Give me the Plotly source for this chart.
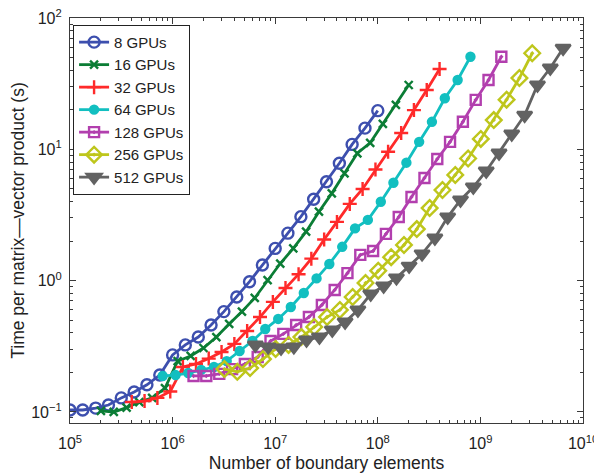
import plotly.graph_objects as go

# ---------------- data ----------------
labels = ["8 GPUs", "16 GPUs", "32 GPUs", "64 GPUs", "128 GPUs", "256 GPUs", "512 GPUs"]

n_8 = [1.00e5, 1.33e5, 1.78e5, 2.37e5, 3.16e5, 4.22e5, 5.62e5, 7.50e5, 1.00e6, 1.33e6,
       1.78e6, 2.37e6, 3.16e6, 4.22e6, 5.62e6, 7.50e6, 1.00e7, 1.33e7, 1.78e7, 2.37e7,
       3.16e7, 4.22e7, 5.62e7, 7.50e7, 1.00e8]
t_8 = [0.1035, 0.1035, 0.107, 0.113, 0.128, 0.142, 0.161, 0.191, 0.272, 0.324,
       0.372, 0.459, 0.581, 0.751, 0.982, 1.315, 1.76, 2.30, 3.07, 4.17,
       5.67, 7.83, 10.9, 14.5, 19.7]

n_16 = [2.00e5, 2.67e5, 3.56e5, 4.74e5, 6.32e5, 8.43e5, 1.12e6, 1.50e6, 2.00e6, 2.67e6,
        3.56e6, 4.74e6, 6.32e6, 8.43e6, 1.12e7, 1.50e7, 2.00e7, 2.67e7, 3.56e7, 4.74e7,
        6.32e7, 8.43e7, 1.12e8, 1.50e8, 2.00e8]
t_16 = [0.102, 0.100, 0.108, 0.119, 0.128, 0.152, 0.244, 0.267, 0.307, 0.372,
        0.468, 0.581, 0.738, 1.01, 1.35, 1.76, 2.36, 3.35, 4.62, 6.57,
        9.33, 11.2, 15.6, 21.8, 30.9]

n_32 = [4.00e5, 5.33e5, 7.11e5, 9.49e5, 1.26e6, 1.69e6, 2.25e6, 3.00e6, 4.00e6, 5.33e6,
        7.11e6, 9.49e6, 1.26e7, 1.69e7, 2.25e7, 3.00e7, 4.00e7, 5.33e7, 7.11e7, 9.49e7,
        1.26e8, 1.69e8, 2.25e8, 3.00e8, 4.00e8]
t_32 = [0.119, 0.121, 0.128, 0.143, 0.220, 0.232, 0.255, 0.286, 0.330, 0.414,
        0.528, 0.689, 0.879, 1.12, 1.47, 2.06, 2.80, 3.84, 4.99, 7.02,
        9.59, 13.3, 19.9, 28.3, 40.9]

n_64 = [8.00e5, 1.07e6, 1.42e6, 1.90e6, 2.53e6, 3.37e6, 4.50e6, 6.00e6, 8.00e6, 1.07e7,
        1.42e7, 1.90e7, 2.53e7, 3.37e7, 4.50e7, 6.00e7, 8.00e7, 1.07e8, 1.42e8, 1.90e8,
        2.53e8, 3.37e8, 4.50e8, 6.00e8, 8.00e8]
t_64 = [0.188, 0.191, 0.198, 0.209, 0.220, 0.244, 0.291, 0.347, 0.428, 0.511,
        0.630, 0.805, 1.04, 1.34, 1.81, 2.50, 2.90, 3.99, 5.57, 7.91,
        11.4, 16.2, 24.5, 33.7, 50.7]

n_128 = [1.60e6, 2.13e6, 2.85e6, 3.80e6, 5.06e6, 6.75e6, 9.00e6, 1.20e7, 1.60e7, 2.13e7,
         2.85e7, 3.80e7, 5.06e7, 6.75e7, 9.00e7, 1.20e8, 1.60e8, 2.13e8, 2.85e8, 3.80e8,
         5.06e8, 6.75e8, 9.00e8, 1.20e9, 1.60e9]
t_128 = [0.188, 0.188, 0.195, 0.212, 0.232, 0.262, 0.347, 0.393, 0.459, 0.528,
         0.653, 0.849, 1.14, 1.57, 1.68, 2.27, 3.05, 4.34, 6.05, 8.44,
         11.4, 16.2, 23.8, 33.7, 50.7]

n_256 = [3.20e6, 4.27e6, 5.69e6, 7.59e6, 1.01e7, 1.35e7, 1.80e7, 2.40e7, 3.20e7, 4.27e7,
         5.69e7, 7.59e7, 1.01e8, 1.35e8, 1.80e8, 2.40e8, 3.20e8, 4.27e8, 5.69e8, 7.59e8,
         1.01e9, 1.35e9, 1.80e9, 2.40e9, 3.20e9]
t_256 = [0.212, 0.202, 0.216, 0.253, 0.302, 0.324, 0.372, 0.444, 0.528, 0.598,
         0.751, 0.960, 1.19, 1.51, 1.87, 2.47, 3.57, 4.90, 6.38, 8.51,
         12.0, 16.7, 23.9, 34.9, 53.9]

n_512 = [6.40e6, 8.53e6, 1.14e7, 1.52e7, 2.02e7, 2.70e7, 3.60e7, 4.80e7, 6.40e7, 8.53e7,
         1.14e8, 1.52e8, 2.02e8, 2.70e8, 3.60e8, 4.80e8, 6.40e8, 8.53e8, 1.14e9, 1.52e9,
         2.02e9, 2.70e9, 3.60e9, 4.80e9, 6.40e9]
t_512 = [0.324, 0.313, 0.307, 0.313, 0.353, 0.372, 0.421, 0.484, 0.598, 0.791,
         0.910, 1.05, 1.29, 1.60, 2.11, 3.05, 4.11, 5.16, 6.84, 9.38,
         13.1, 18.2, 30.9, 41.6, 58.8]

x_tick_vals = [1e5, 1e6, 1e7, 1e8, 1e9, 1e10]
x_tick_text = ["10<sup>5</sup>", "10<sup>6</sup>", "10<sup>7</sup>", "10<sup>8</sup>",
               "10<sup>9</sup>", "10<sup>10</sup>"]
y_tick_vals = [0.1, 1, 10, 100]
y_tick_text = ["10<sup>−1</sup>", "10<sup>0</sup>", "10<sup>1</sup>", "10<sup>2</sup>"]

# ---------------- styling ----------------
series = [
    (n_8, t_8, "#3d4fae", "circle-open", 11),
    (n_16, t_16, "#0b7d35", "x-thin-open", 8),
    (n_32, t_32, "#ff2a2a", "cross-thin-open", 10),
    (n_64, t_64, "#12bfc0", "circle", 8),
    (n_128, t_128, "#b23fae", "square-open-dot", 10),
    (n_256, t_256, "#bec61c", "diamond-open-dot", 12),
    (n_512, t_512, "#626262", "triangle-down", 13),
]

fig = go.Figure()
for (xs, ys, col, sym, sz), name in zip(series, labels):
    fig.add_trace(go.Scatter(
        x=xs, y=ys, name=name, mode="lines+markers",
        line=dict(color=col, width=2.8),
        marker=dict(symbol=sym, size=sz, color=col,
                    line=dict(color=col, width=2.4)),
    ))

minor_x = [m * 10 ** e for e in range(5, 10) for m in range(2, 10)]
minor_y = [m * 10 ** e for e in range(-2, 2) for m in range(2, 10)]

axis_col = "#3a3a3a"
font_family = "Liberation Sans, Arial, Helvetica, sans-serif"

# the page body adds an 8 px offset, so the figure is 8 px smaller and margins shifted
fig.update_layout(
    width=594, height=465,
    margin=dict(l=62, r=19, t=10, b=50, autoexpand=False),
    paper_bgcolor="white", plot_bgcolor="white",
    font=dict(family=font_family, size=16, color="#222222"),
    showlegend=True,
    legend=dict(
        x=0.006, y=0.983, xanchor="left", yanchor="top",
        bgcolor="white", bordercolor="#222222", borderwidth=1,
        font=dict(size=15, color="#222222"),
        tracegroupgap=0, itemwidth=30,
    ),
    xaxis=dict(
        type="log", range=[5, 10], automargin=False,
        tickvals=x_tick_vals, ticktext=x_tick_text,
        ticks="inside", ticklen=6, tickcolor=axis_col, tickwidth=1,
        ticklabelstandoff=6, ticklabeloverflow="allow",
        showline=True, linecolor=axis_col, linewidth=1.2, mirror="allticks",
        showgrid=False, zeroline=False,
        minor=dict(tickvals=minor_x, ticks="inside", ticklen=3, tickcolor=axis_col, showgrid=False),
        title=dict(text="Number of boundary elements", standoff=6, font=dict(size=17.5)),
    ),
    yaxis=dict(
        type="log", range=[-1.084, 2], automargin=False,
        tickvals=y_tick_vals, ticktext=y_tick_text,
        ticks="inside", ticklen=6, tickcolor=axis_col, tickwidth=1,
        ticklabelstandoff=4, ticklabeloverflow="allow",
        showline=True, linecolor=axis_col, linewidth=1.2, mirror="allticks",
        showgrid=False, zeroline=False,
        minor=dict(tickvals=minor_y, ticks="inside", ticklen=3, tickcolor=axis_col, showgrid=False),
        title=dict(text="Time per matrix––vector product (s)", standoff=6, font=dict(size=17.5)),
    ),
)

fig.write_html("out.html")
